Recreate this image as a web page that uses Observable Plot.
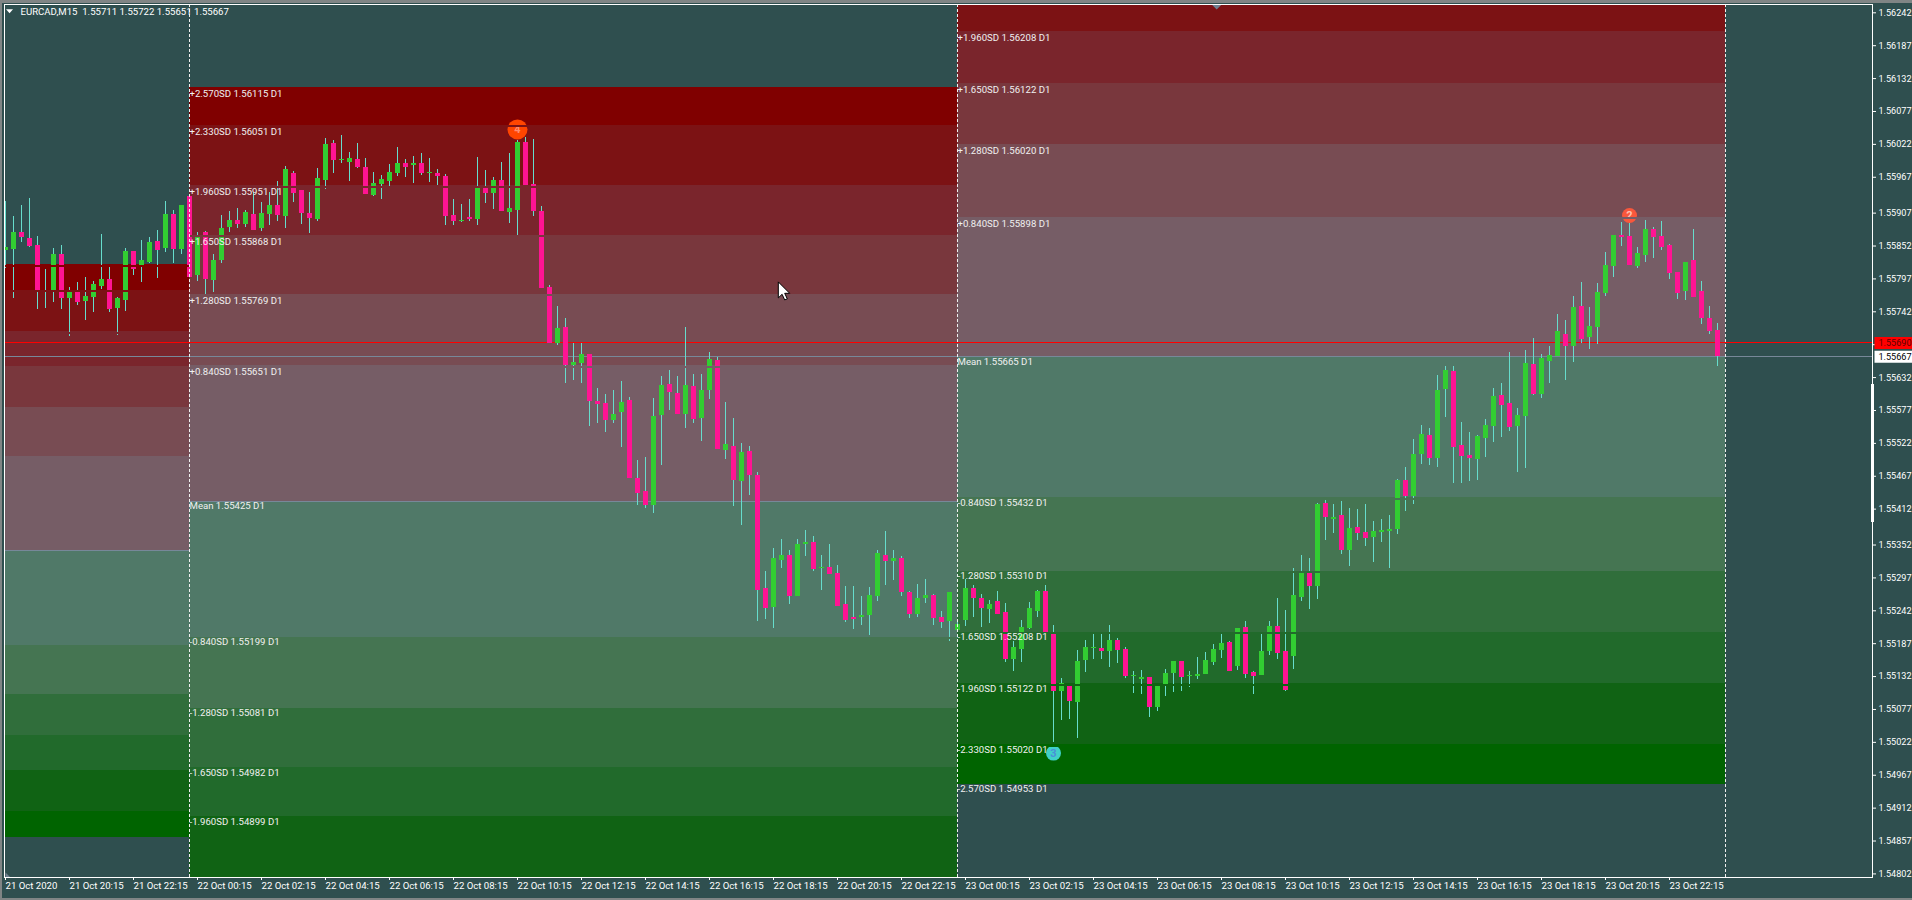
<!DOCTYPE html>
<html><head><meta charset="utf-8">
<script src="https://cdn.jsdelivr.net/npm/d3@7"></script>
<script src="https://cdn.jsdelivr.net/npm/@observablehq/plot@0.6"></script>
<style>
html,body{margin:0;padding:0;background:#2F4F4F;overflow:hidden;width:1912px;height:900px}
#c{position:absolute;left:0;top:0}
.s{position:absolute;background:#808585}
</style></head><body>
<div id="c"></div>
<div class="s" style="left:0;top:0;width:1912px;height:3px"></div>
<div class="s" style="left:0;top:898px;width:1912px;height:2px"></div>
<div class="s" style="left:0;top:0;width:2px;height:900px"></div>
<script>
// Prices are stored as points above 1.00000 (55711 = 1.55711)
const highs=[55927,55902,55920,55931,55868,55812,55848,55853,55783,55791,
55800,55793,55872,55818,55766,55848,55843,55862,55867,55878,
55927,55912,55919,55935,55875,55877,55838,55903,55910,55914,
55912,55942,55924,55942,55960,55985,55977,55945,55942,55982,
56031,56029,56037,56009,56024,55999,55975,55970,55989,56017,
55997,56002,56007,55999,55980,55972,55929,55922,55930,56000,
55978,55966,55991,56007,56029,56033,56030,55918,55786,55751,
55730,55689,55689,55671,55614,55604,55611,55626,55599,55493,
55498,55597,55634,55644,55634,55716,55637,55637,55674,55666,
55590,55564,55522,55517,55473,55308,55346,55361,55343,55361,
55376,55366,55335,55353,55318,55283,55283,55266,55281,55343,
55375,55343,55333,55274,55286,55294,55269,55241,55273,55226,
55294,55284,55269,55259,55274,55254,55191,55226,55256,55276,
55284,55218,55129,55117,55176,55192,55202,55206,55218,55196,
55181,55141,55142,55131,55117,55144,55157,55157,55141,55164,
55172,55186,55204,55191,55213,55224,55141,55206,55224,55263,
55243,55313,55335,55330,55422,55428,55420,55425,55413,55412,
55420,55391,55395,55401,55462,55482,55528,55552,55547,55635,
55651,55651,55557,55540,55535,55562,55614,55622,55674,55580,
55677,55697,55671,55684,55738,55728,55768,55791,55749,55789,
55841,55870,55891,55891,55850,55895,55883,55893,55855,55808,
55825,55880,55793,55751,55722];
const lows=[55814,55765,55858,55849,55746,55748,55758,55746,55701,55753,
55728,55741,55780,55741,55703,55743,55803,55791,55823,55798,
55842,55823,55838,55800,55793,55771,55775,55822,55875,55882,
55883,55878,55877,55887,55893,55882,55925,55888,55873,55893,
55947,55974,55990,55960,55982,55939,55935,55929,55949,55969,
55967,55957,55970,55959,55954,55887,55887,55892,55893,55887,
55923,55913,55910,55890,55870,55953,55901,55781,55689,55685,
55622,55627,55622,55550,55555,55540,55555,55515,55464,55418,
55413,55405,55485,55577,55570,55547,55555,55525,55595,55512,
55495,55417,55385,55435,55224,55228,55213,55313,55253,55266,
55333,55308,55276,55303,55249,55223,55211,55218,55201,55258,
55284,55293,55266,55229,55231,55254,55218,55213,55191,55204,
55216,55231,55214,55221,55236,55156,55141,55156,55211,55231,
55202,55022,55059,55060,55029,55139,55161,55161,55147,55154,
55129,55104,55102,55064,55074,55099,55105,55107,55114,55127,
55136,55151,55162,55141,55142,55129,55102,55134,55167,55161,
55107,55144,55258,55244,55261,55360,55371,55336,55316,55360,
55350,55323,55356,55313,55370,55408,55420,55487,55485,55482,
55565,55455,55455,55458,55460,55498,55524,55532,55542,55473,
55480,55602,55597,55622,55667,55627,55657,55689,55679,55687,
55768,55800,55851,55819,55815,55825,55831,55845,55796,55763,
55761,55766,55721,55704,55651];
const opens=[55845,55847,55875,55865,55853,55780,55778,55838,55765,55775,
55760,55766,55785,55796,55748,55761,55843,55817,55825,55860,
55848,55905,55847,55935,55803,55875,55795,55828,55883,55895,
55888,55905,55882,55905,55920,55902,55974,55945,55907,55897,
55962,56024,55995,55992,55997,55984,55937,55955,55960,55974,
55990,55987,55990,55974,55974,55969,55903,55893,55900,55897,
55950,55940,55961,55908,55911,56025,55955,55910,55782,55689,
55715,55652,55655,55671,55592,55589,55560,55574,55594,55463,
55442,55418,55569,55621,55605,55570,55617,55564,55611,55661,
55510,55517,55458,55509,55468,55279,55248,55326,55335,55266,
55353,55356,55313,55315,55304,55253,55231,55231,55234,55266,
55335,55325,55330,55273,55236,55263,55268,55231,55224,55209,
55226,55279,55263,55244,55258,55239,55161,55177,55213,55241,
55274,55202,55107,55117,55089,55159,55179,55179,55174,55192,
55177,55132,55127,55131,55080,55116,55137,55157,55132,55132,
55136,55156,55176,55189,55149,55214,55139,55134,55174,55216,
55174,55166,55264,55308,55283,55422,55395,55401,55343,55381,
55373,55365,55373,55375,55378,55460,55433,55503,55535,55497,
55612,55642,55519,55502,55495,55530,55550,55602,55589,55550,
55567,55654,55604,55659,55667,55704,55684,55751,55699,55716,
55773,55818,55870,55868,55818,55836,55880,55868,55853,55808,
55776,55828,55776,55731,55711];
const closes=[55850,55875,55867,55852,55778,55780,55838,55765,55775,55758,
55768,55788,55796,55746,55765,55843,55813,55828,55858,55845,
55905,55847,55919,55800,55867,55796,55828,55882,55895,55888,
55908,55878,55907,55920,55903,55980,55940,55907,55898,55965,
56022,55995,55997,55999,55984,55939,55957,55964,55975,55990,
55984,55990,55974,55975,55969,55902,55893,55895,55897,55950,
55940,55961,55910,55915,56025,55953,55910,55781,55689,55714,
55652,55657,55670,55592,55587,55560,55570,55590,55464,55438,
55418,55567,55619,55607,55570,55619,55562,55611,55662,55512,
55520,55460,55507,55468,55276,55246,55330,55335,55266,55353,
55356,55311,55315,55303,55249,55226,55228,55234,55268,55338,
55325,55330,55273,55236,55263,55268,55229,55223,55273,55219,
55279,55263,55246,55253,55236,55161,55181,55214,55246,55274,
55204,55107,55121,55090,55157,55181,55181,55174,55192,55176,
55132,55134,55131,55080,55116,55137,55157,55131,55134,55136,
55159,55177,55187,55141,55213,55136,55132,55174,55216,55171,
55109,55268,55306,55283,55420,55398,55398,55343,55380,55371,
55363,55375,55376,55378,55460,55433,55503,55537,55497,55610,
55644,55515,55500,55497,55534,55552,55600,55585,55548,55569,
55656,55604,55664,55669,55709,55684,55749,55696,55718,55774,
55820,55870,55866,55820,55840,55880,55866,55850,55806,55773,
55825,55766,55731,55709,55667];

const xLabels=["21 Oct 2020","21 Oct 20:15","21 Oct 22:15",
"22 Oct 00:15","22 Oct 02:15","22 Oct 04:15","22 Oct 06:15","22 Oct 08:15","22 Oct 10:15",
"22 Oct 12:15","22 Oct 14:15","22 Oct 16:15","22 Oct 18:15","22 Oct 20:15","22 Oct 22:15",
"23 Oct 00:15","23 Oct 02:15","23 Oct 04:15","23 Oct 06:15","23 Oct 08:15","23 Oct 10:15",
"23 Oct 12:15","23 Oct 14:15","23 Oct 16:15","23 Oct 18:15","23 Oct 20:15","23 Oct 22:15"];
const yTicks=[1.56242,1.56187,1.56132,1.56077,1.56022,1.55967,1.55907,1.55852,1.55797,1.55742,1.55687,1.55632,
1.55577,1.55522,1.55467,1.55412,1.55352,1.55297,1.55242,1.55187,1.55132,1.55077,1.55022,1.54967,1.54912,1.54857,1.54802];

// Day boundaries in bars
const dayStarts=[23,119,215];
// Band edges (as seen on the chart) for the three days
const yTop=1.562559, yBottom=1.54796;
const levels21=[1.55821,1.55778,1.55709,1.55650,1.55582,1.55500,1.55342,1.55184,1.55102,1.55034,1.54975,1.54906,1.54863];
const levels22=[1.56117,1.56054,1.55953,1.55870,1.55771,1.55652,1.55425,1.55198,1.55079,1.54980,1.54898,yBottom];
const levels23=[yTop,1.56211,1.56124,1.56022,1.55900,1.55666,1.55431,1.55308,1.55206,1.55120,1.55018,1.54952];
const ladder=["#800000","#7C1214","#7A252C","#79373D","#784C53","#765D66","#507968","#457552","#306E3B","#216A2B","#106314","#006400"];
const meanLevels=[{x1:0,x2:23,y:1.55342},{x1:23,x2:119,y:1.55425}];

const labels22=["+2.570SD 1.56115 D1","+2.330SD 1.56051 D1","+1.960SD 1.55951 D1","+1.650SD 1.55868 D1","+1.280SD 1.55769 D1","+0.840SD 1.55651 D1","Mean 1.55425 D1","-0.840SD 1.55199 D1","-1.280SD 1.55081 D1","-1.650SD 1.54982 D1","-1.960SD 1.54899 D1"];
const labels23=["+1.960SD 1.56208 D1","+1.650SD 1.56122 D1","+1.280SD 1.56020 D1","+0.840SD 1.55898 D1","Mean 1.55665 D1","-0.840SD 1.55432 D1","-1.280SD 1.55310 D1","-1.650SD 1.55208 D1","-1.960SD 1.55122 D1","-2.330SD 1.55020 D1","-2.570SD 1.54953 D1"];

const askPrice=1.55690, bidPrice=1.55667;
const bigMarkers=[{x:64,y:1.56047,fill:"#FF4500",t:"4",tc:"#FF8C70"}];
const smallMarkers=[
 {x:203,y:1.55903,fill:"#F9573C",t:"2",tc:"#FFC0B0"},
 {x:131,y:1.55004,fill:"#40D0C8",t:"3",tc:"#4A8FD8"}
];
const headerText="EURCAD,M15  1.55711 1.55722 1.55651 1.55667";

const FONT="Roboto, 'Liberation Sans', sans-serif";
const candles=opens.map((o,i)=>({i,o:1+o/1e5,c:1+closes[i]/1e5,h:1+highs[i]/1e5,l:1+lows[i]/1e5}));

function bands(lv,x1,x2,c0){const a=[];for(let k=0;k<lv.length-1;k++)a.push({x1,x2,y1:lv[k],y2:lv[k+1],fill:ladder[c0+k]});return a;}
const allBands=[...bands(levels21,0,23,0),...bands(levels22,23,119,0),...bands(levels23,119,215,1)];
const gaps=allBands.filter(b=>b.fill!==ladder[6]&&b.y1!==yTop).map(b=>({x1:b.x1,x2:b.x2,y:b.y1,fill:b.fill}));
const textRows=[...labels22.map((t,k)=>({x:23,y:levels22[k],t})),...labels23.map((t,k)=>({x:119,y:levels23[k+1],t}))];

const tri=(w,h)=>({draw(c){c.moveTo(-w,0);c.lineTo(w,0);c.lineTo(0,h);c.closePath();}});
const corner={draw(c){c.moveTo(0,0);c.lineTo(5,0);c.lineTo(0,-5);c.closePath();}};
const box={draw(c){c.rect(0,-6,38,12);}};
const cursor={draw(c){c.moveTo(0,0);c.lineTo(0,16);c.lineTo(3.8,12.4);c.lineTo(6.4,18);c.lineTo(9,17);c.lineTo(6.4,11.4);c.lineTo(11.4,11.4);c.closePath();}};

const crisp={shapeRendering:"crispEdges"};
const chart=Plot.plot({
 width:1912,height:900,marginLeft:4,marginRight:40,marginTop:4,marginBottom:23,
 style:{background:"#2F4F4F",fontFamily:FONT,fontSize:"9.6px",color:"#fff",display:"block"},
 x:{domain:[-0.125,233.375],axis:null},
 y:{domain:[yBottom,yTop],axis:null},
 color:{type:"identity"},
 marks:[
  Plot.rect(allBands,{x1:"x1",x2:"x2",y1:"y1",y2:"y2",fill:"fill",...crisp}),
  Plot.ruleY(meanLevels,{x1:"x1",x2:"x2",y:"y",stroke:"#778899",...crisp}),
  Plot.ruleY([askPrice],{stroke:"#FF0000",...crisp}),
  Plot.ruleY([bidPrice],{stroke:"#778899",...crisp}),
  Plot.ruleX(candles,{x:"i",y1:"l",y2:"h",stroke:"#66DDCC",...crisp}),
  Plot.rect(candles,{x1:d=>Math.max(d.i-0.3125,-0.125),x2:d=>d.i+0.3125,y1:"o",y2:"c",fill:d=>d.c>=d.o?"#32CD32":"#FF1493",...crisp}),
  Plot.dot(bigMarkers,{x:"x",y:"y",r:10,fill:"fill",stroke:null}),
  Plot.dot(smallMarkers,{x:"x",y:"y",r:7.5,fill:"fill",stroke:null}),
  Plot.text([...bigMarkers,...smallMarkers],{x:"x",y:"y",text:"t",fill:"tc",fontSize:11,fontWeight:"bold"}),
  Plot.ruleY(gaps,{x1:"x1",x2:"x2",y:"y",stroke:"fill",strokeWidth:2,dy:1,...crisp}),
  Plot.ruleX(dayStarts,{stroke:"#F0F0F0",strokeDasharray:"3,2",...crisp}),
  Plot.text(textRows,{x:"x",y:"y",text:"t",textAnchor:"start",fill:"#F0F0F0",fontSize:9.6,dy:6.7,filter:d=>d.t[0]==="+"}),
  Plot.text(textRows,{x:"x",y:"y",text:"t",textAnchor:"start",fill:"#F0F0F0",fontSize:9.6,dy:5,filter:d=>d.t[0]!=="+"}),
  Plot.dot([{x:151.4,y:yTop}],{x:"x",y:"y",symbol:tri(5,5),fill:"#708090",stroke:null}),
  Plot.dot([{x:0,y:yBottom}],{x:"x",y:"y",symbol:corner,fill:"#708090",stroke:null}),
  Plot.dot([{x:96.6,y:1.55792}],{x:"x",y:"y",symbol:cursor,fill:"#fff",stroke:"#000",strokeWidth:1}),
  Plot.frame({stroke:"#fff",...crisp}),
  Plot.rect([{x1:233.25,x2:233.625,y1:1.55390,y2:1.55620}],{x1:"x1",x2:"x2",y1:"y1",y2:"y2",fill:"#fff",...crisp}),
  Plot.axisY(yTicks,{anchor:"right",tickSize:3,tickPadding:3,label:null,tickFormat:d=>d.toFixed(5),fontSize:9.1,fill:"#fff",stroke:"#fff"}),
  Plot.axisX(xLabels.map((_,k)=>8*k),{anchor:"bottom",tickSize:3,tickPadding:2,label:null,tickFormat:d=>xLabels[d/8],textAnchor:"start",fontSize:9.6,fill:"#fff",stroke:"#fff"}),
  Plot.dot([{x:233.625,y:askPrice}],{x:"x",y:"y",symbol:box,fill:"#FF0000",stroke:null}),
  Plot.dot([{x:233.625,y:bidPrice}],{x:"x",y:"y",symbol:box,fill:"#FFFFFF",stroke:null}),
  Plot.text([{x:233.625,y:askPrice,t:"1.55690"}],{x:"x",y:"y",text:"t",textAnchor:"start",dx:4,fill:"#600000",fontSize:9.1}),
  Plot.text([{x:233.625,y:bidPrice,t:"1.55667"}],{x:"x",y:"y",text:"t",textAnchor:"start",dx:4,fill:"#000",fontSize:9.1}),
  Plot.text([headerText],{frameAnchor:"top-left",dx:16,dy:4,lineAnchor:"top",textAnchor:"start",fill:"#fff",fontSize:9.6}),
  Plot.dot([{x:0.5,y:1.56248}],{x:"x",y:"y",symbol:tri(3.5,4),fill:"#fff",stroke:null})
 ]
});
document.getElementById("c").appendChild(chart);
</script>
</body></html>
